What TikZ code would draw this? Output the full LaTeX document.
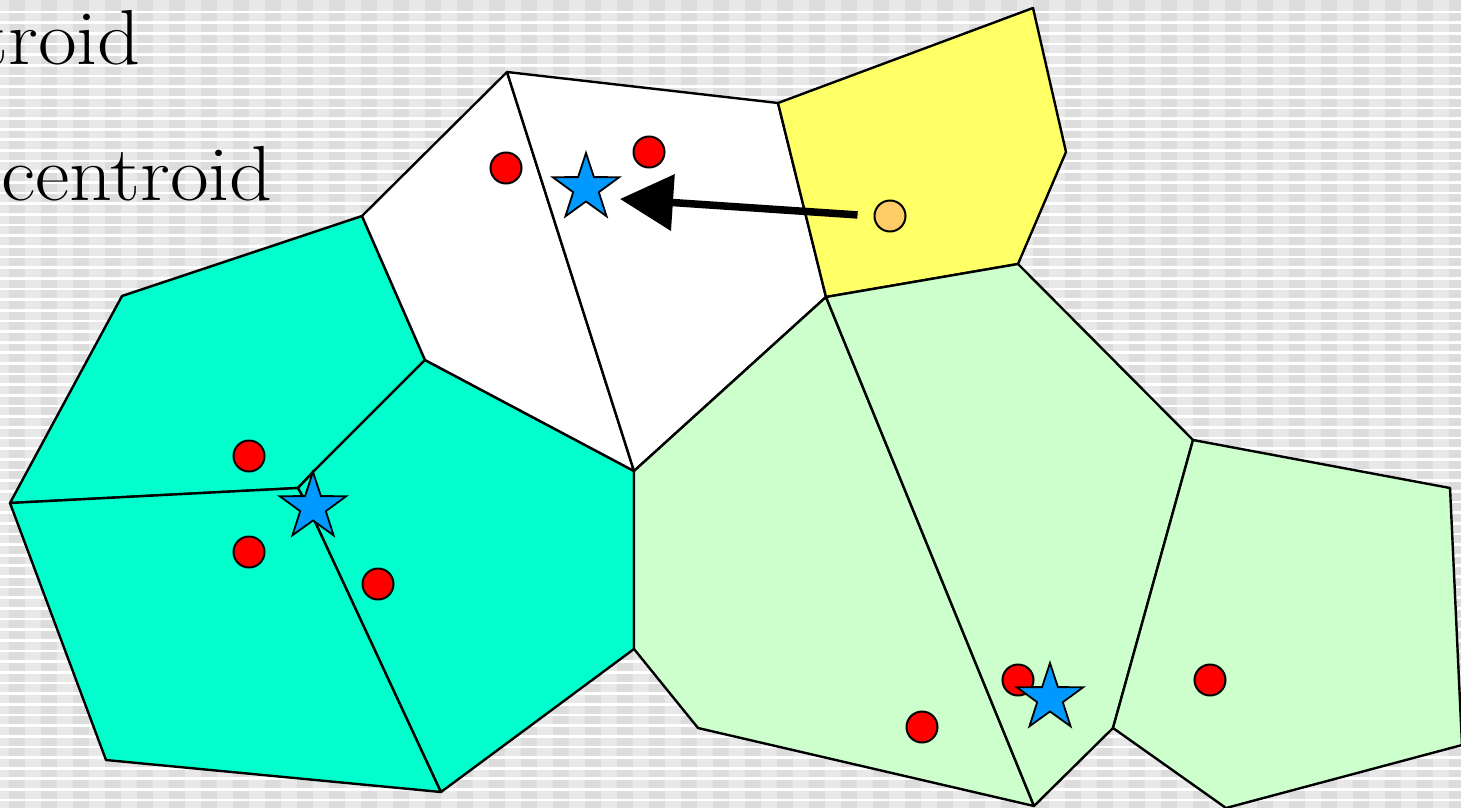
\documentclass[tikz,border=0pt]{standalone}
\usetikzlibrary{shapes.geometric,arrows.meta}
\definecolor{bglight}{HTML}{E8E8E8}
\definecolor{bgdark}{HTML}{DCDCDC}
\definecolor{cellteal}{HTML}{00FFCC}
\definecolor{cellyellow}{HTML}{FFFF66}
\definecolor{cellgreen}{HTML}{CCFFCC}
\definecolor{starblue}{HTML}{0099FF}
\definecolor{dotorange}{HTML}{FFCC66}
\begin{document}
\begin{tikzpicture}[x=1pt,y=-1pt,
  cell/.style={draw=black,line width=2.4pt,line join=round},
  reddot/.style={circle,fill=red,draw=black,line width=2pt,minimum size=31pt,inner sep=0pt},
  orangedot/.style={circle,fill=dotorange,draw=black,line width=2pt,minimum size=31pt,inner sep=0pt},
  starnode/.style={star,star points=5,star point ratio=2.6,minimum size=70pt,inner sep=0pt,outer sep=0pt,fill=starblue,draw=black,line width=1.8pt,line join=miter},
  bigtext/.style={anchor=base east,font=\fontsize{78}{94}\selectfont,inner sep=0pt},
  movearrow/.style={line width=7.5pt,-{Triangle[length=53pt,width=55pt]}}]
\useasboundingbox (0,0) rectangle (1461,808);
\clip (0,0) rectangle (1461,808);
% background
\fill[bglight] (0,0) rectangle (1461,808);
\foreach \i in {0,...,45} \fill[bgdark] ({9+32*\i},0) rectangle ({25+32*\i},808);
\foreach \k in {0,...,75} \fill[white] (0,{12+10.65*\k-1.35}) rectangle (1461,{12+10.65*\k+1.35});
% vertices
\coordinate (A) at (507,72);
\coordinate (B) at (778,103);
\coordinate (C) at (1033,8);
\coordinate (D) at (1066,152);
\coordinate (E) at (1018,264);
\coordinate (F) at (826,297);
\coordinate (G) at (362,216);
\coordinate (H) at (425,360);
\coordinate (I) at (634,471);
\coordinate (J) at (122,296);
\coordinate (K) at (10,503);
\coordinate (V1) at (298,488);
\coordinate (V2) at (313,472);
\coordinate (V3) at (305,500);
\coordinate (M) at (441,792);
\coordinate (N) at (106,760);
\coordinate (P) at (634,649);
\coordinate (R) at (698,728);
\coordinate (S) at (1034,806);
\coordinate (T) at (1193,440);
\coordinate (U) at (1113,728);
\coordinate (W) at (1450,488);
\coordinate (X) at (1462,745);
\coordinate (Y) at (1226,808);
% cells
\filldraw[cell,fill=cellteal] (J) -- (G) -- (H) -- (V2) -- (V1) -- (K) -- cycle;
\filldraw[cell,fill=cellteal] (K) -- (V1) -- (V3) -- (M) -- (N) -- cycle;
\filldraw[cell,fill=cellteal] (H) -- (I) -- (P) -- (M) -- (V3) -- (V2) -- cycle;
\filldraw[cell,fill=cellteal] (V1) -- (V2) -- (V3) -- cycle;
\filldraw[cell,fill=white] (G) -- (A) -- (I) -- (H) -- cycle;
\filldraw[cell,fill=white] (A) -- (B) -- (F) -- (I) -- cycle;
\filldraw[cell,fill=cellyellow] (B) -- (C) -- (D) -- (E) -- (F) -- cycle;
\filldraw[cell,fill=cellgreen] (F) -- (I) -- (P) -- (R) -- (S) -- cycle;
\filldraw[cell,fill=cellgreen] (F) -- (E) -- (T) -- (U) -- (S) -- cycle;
\filldraw[cell,fill=cellgreen] (T) -- (W) -- (X) -- (Y) -- (U) -- cycle;
% text
\node[bigtext] (line1) at (141,65) {\scalebox{1.08}[1]{troid}};
\node[bigtext] (line2) at (273,200) {\scalebox{1.08}[1]{centroid}};
% data points
\node[reddot] (d1) at (506,168) {};
\node[reddot] (d2) at (649,152) {};
\node[reddot] (d3) at (249,456) {};
\node[reddot] (d4) at (249,552) {};
\node[reddot] (d5) at (378,584) {};
\node[reddot] (d6) at (922,727) {};
\node[reddot] (d7) at (1018,680) {};
\node[reddot] (d8) at (1210,680) {};
\node[orangedot] (od) at (890,216) {};
% centroids
\node[starnode] (s1) at (586,188) {};
\node[starnode] (s2) at (313,507) {};
\node[starnode] (s3) at (1050,698) {};
% arrow
\coordinate (tip) at (620,199);
\draw[movearrow,shorten <=16pt] (od.west) -- (tip);
\end{tikzpicture}
\end{document}
